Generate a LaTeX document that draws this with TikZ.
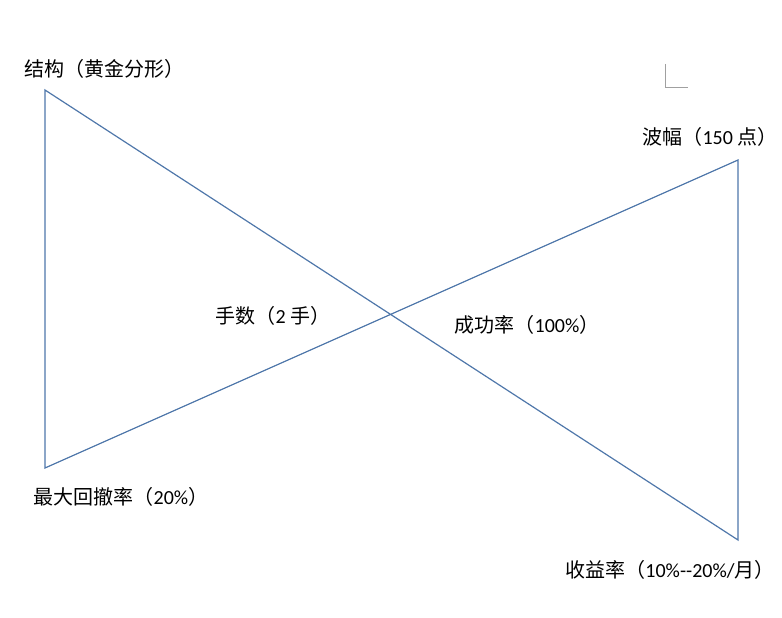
\documentclass[tikz,border=0pt]{standalone}
\usepackage{fontspec}
\setmainfont{Carlito}
\newfontfamily\cjk{Noto Sans CJK SC}
\usepackage{tikz}
\usepackage{xcolor}
\usetikzlibrary{positioning}

\definecolor{edgeblue}{RGB}{79,119,170}
\definecolor{markgray}{RGB}{160,160,160}

\begin{document}
\begin{tikzpicture}[x=1pt, y=-1pt,
        label/.style={inner sep=0pt, font=\fontsize{20}{24}\selectfont},
        edge/.style={draw=edgeblue, line width=1.2pt}]
        \useasboundingbox (0, 0) rectangle (782, 618);

        \coordinate (tl) at (45, 90);
        \coordinate (bl) at (45, 468);
        \coordinate (tr) at (738, 160);
        \coordinate (br) at (738, 540);

        \node[label] (structure) at (104, 69) {{\cjk 结构（黄金分形）}};
        \node[label] (amplitude) at (710, 137) {{\cjk 波幅（}150 {\cjk 点）}};
        \node[label] (lots) at (273, 316) {{\cjk 手数（}2 {\cjk 手）}};
        \node[label] (success) at (527, 325) {{\cjk 成功率（}100\%{\cjk ）}};
        \node[label] (drawdown) at (121, 497) {{\cjk 最大回撤率（}20\%{\cjk ）}};
        \node[label] (returns) at (670, 570) {{\cjk 收益率（}10\%-{}-20\%/{\cjk 月）}};

        \draw[edge] (tl) -- (bl) -- (tr) -- (br) -- cycle;

        % corner mark
        \draw[markgray, line width=0.8pt] (665, 64) -- (665, 87) -- (688, 87);
    \end{tikzpicture}
\end{document}
